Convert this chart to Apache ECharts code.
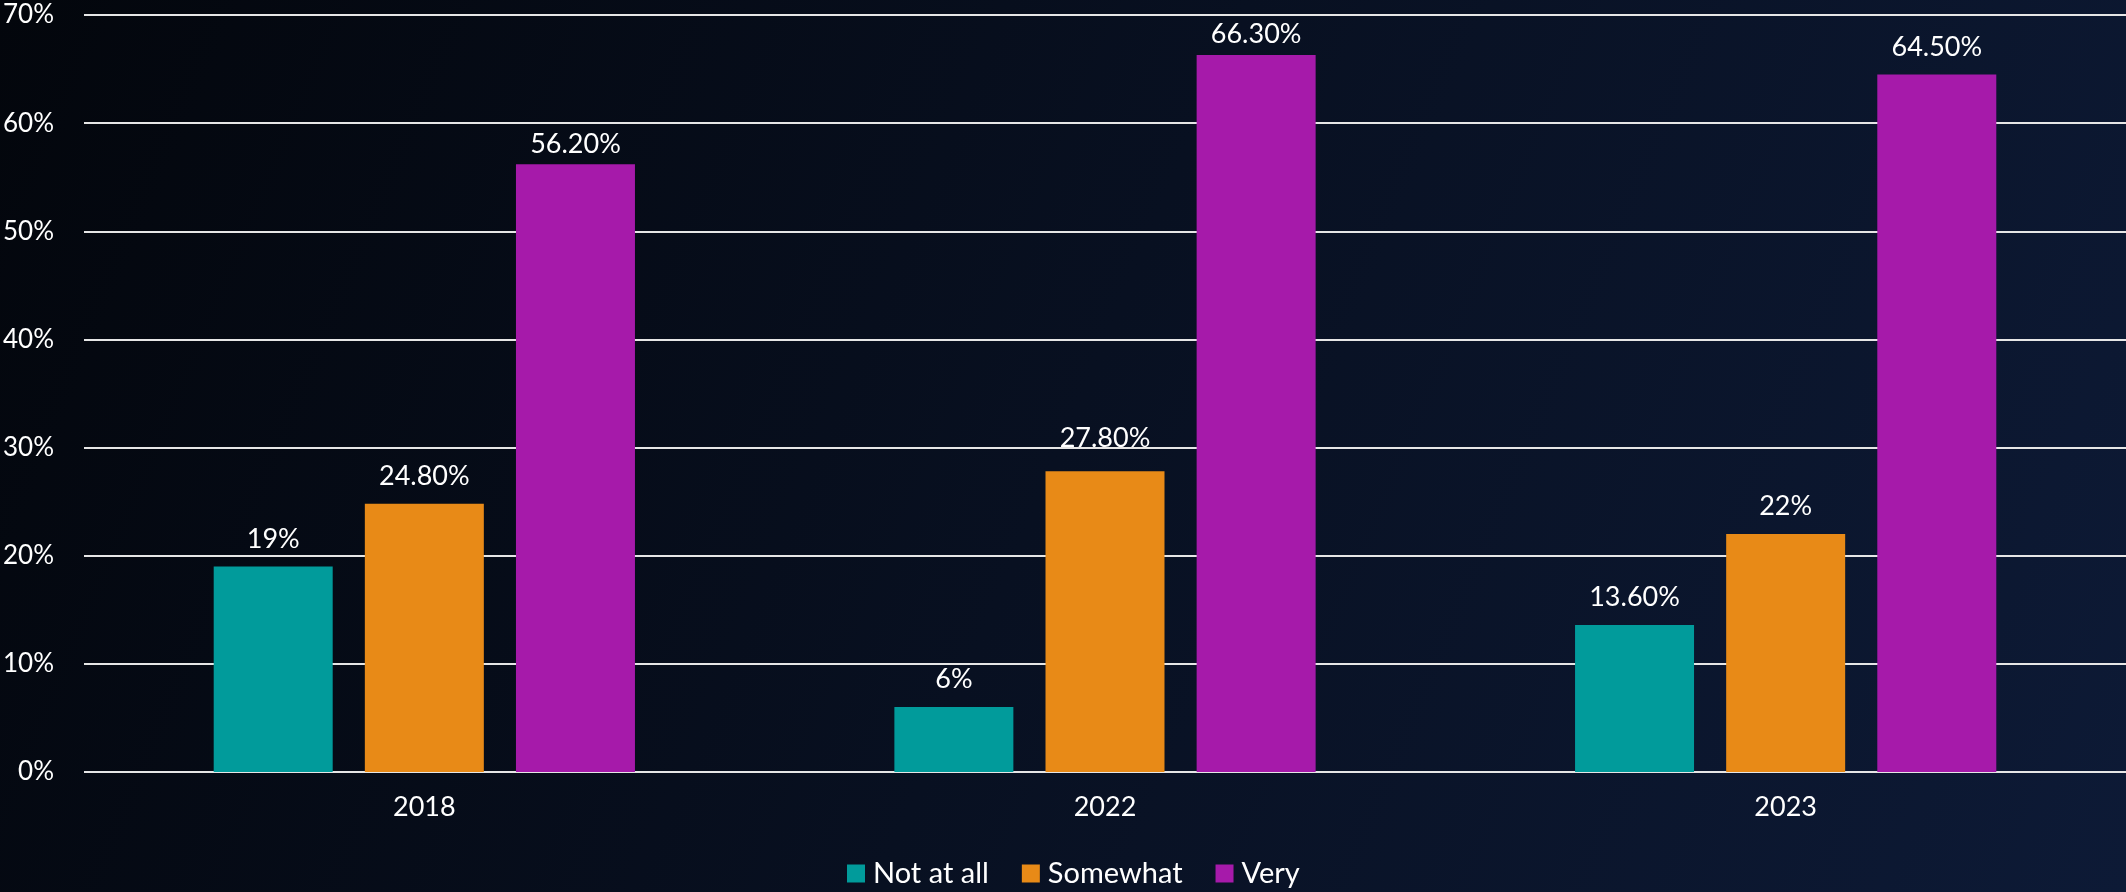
<!DOCTYPE html>
<html>
<head>
<meta charset="utf-8">
<script src="https://cdn.jsdelivr.net/npm/echarts@6/dist/echarts.min.js"></script>
<style>
  html, body { margin: 0; padding: 0; }
  #chart { width: 2126px; height: 892px; }
</style>
</head>
<body>
<div id="chart"></div>
<script>
var years = ['2018', '2022', '2023'];
var notAtAll = [19, 6, 13.6];
var somewhat = [24.8, 27.8, 22];
var very = [56.2, 66.3, 64.5];
var seriesNames = ['Not at all', 'Somewhat', 'Very'];
var colors = ['#019b9b', '#e88a17', '#a61aaa'];

// label nudges as placed in the original (series index, category index, dy)
var labelNudges = [[1, 1, -6], [2, 0, 8], [2, 1, 7]];

var dom = document.getElementById('chart');
var myChart = echarts.init(dom);

function pct(v) {
    return Number.isInteger(v) ? v + '%' : v.toFixed(2) + '%';
}

var font = 'Lato, "Open Sans", sans-serif';

var series = [notAtAll, somewhat, very].map(function (vals, i) {
    return {
        name: seriesNames[i],
        type: 'bar',
        barWidth: 119,
        barGap: '27%',
        itemStyle: { color: colors[i] },
        label: {
            show: true,
            position: 'top',
            distance: 14,
            color: '#ffffff',
            fontSize: 27,
            fontFamily: font,
            formatter: function (p) { return pct(p.value); }
        },
        data: vals.map(function (v, j) {
            var n = labelNudges.find(function (d) { return d[0] === i && d[1] === j; });
            if (n) {
                return { value: v, label: { offset: [0, n[2]] } };
            }
            return v;
        })
    };
});

var option = {
    backgroundColor: {
        type: 'linear', x: 0, y: 0, x2: 1, y2: 1,
        colorStops: [
            { offset: 0, color: '#03060c' },
            { offset: 1, color: '#0d1a36' }
        ]
    },
    textStyle: { fontFamily: font },
    legend: {
        bottom: -1,
        left: 842,
        itemWidth: 18,
        itemHeight: 18,
        itemGap: 33,
        icon: 'rect',
        textStyle: { color: '#ffffff', fontSize: 29, fontFamily: font, padding: [0, 0, 0, 3] }
    },
    grid: {
        left: 82,
        right: 0,
        top: 15,
        bottom: 120
    },
    xAxis: {
        type: 'category',
        data: years,
        axisLine: { show: false },
        axisTick: { show: false },
        axisLabel: { color: '#ffffff', fontSize: 27, fontFamily: font, margin: 22 }
    },
    yAxis: {
        type: 'value',
        min: 0,
        max: 70,
        interval: 10,
        axisLabel: {
            color: '#ffffff',
            fontSize: 26,
            fontFamily: font,
            margin: 30,
            formatter: '{value}%'
        },
        splitLine: { lineStyle: { color: '#e6e6e6', width: 2 } }
    },
    series: series
};

myChart.setOption(option);
window.addEventListener('resize', myChart.resize);
</script>
</body>
</html>
